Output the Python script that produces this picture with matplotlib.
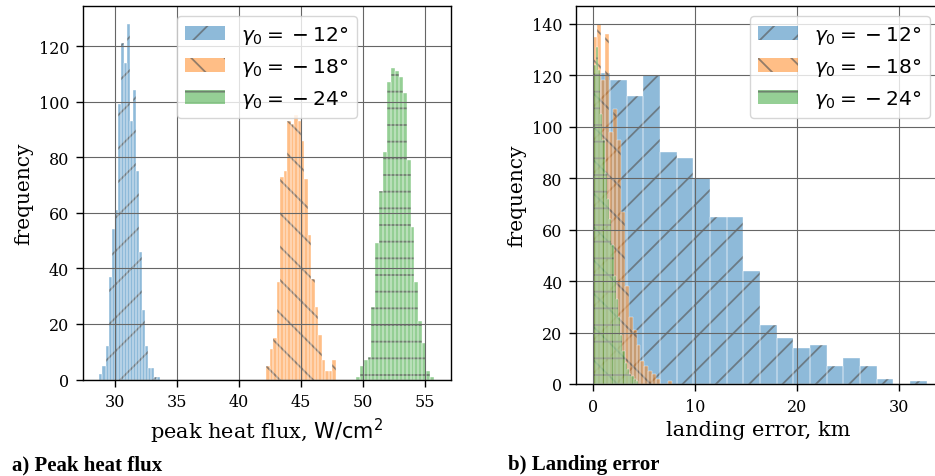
import numpy as np
import matplotlib.pyplot as plt

plt.rcParams['font.family'] = 'DejaVu Serif'
plt.rcParams['mathtext.fontset'] = 'dejavusans'
plt.rcParams['hatch.linewidth'] = 1.3
plt.rcParams['axes.linewidth'] = 1.0

# flight path angles
labels = [r'$\gamma_0 =\: -\: 12°$', r'$\gamma_0 =\: -\: 18°$', r'$\gamma_0 =\: -\: 24°$']
colors = ['tab:blue', 'tab:orange', 'tab:green']
hatches = ['/', '\\', '-']

# a) peak heat flux, W/cm^2 : bin range and counts (20 bins each)
flux_range = [(28.76, 33.68), (42.21, 47.80), (49.42, 55.72)]
flux_12 = [2, 5, 12, 37, 54, 61, 99, 121, 114, 128, 93, 104, 75, 46, 25, 12, 4, 4, 1, 1]
flux_18 = [5, 11, 15, 35, 73, 75, 93, 92, 95, 93, 86, 72, 52, 36, 26, 16, 7, 3, 3, 7]
flux_24 = [1, 5, 7, 8, 26, 49, 68, 82, 107, 112, 111, 109, 103, 79, 55, 35, 21, 13, 3, 1]

# b) landing error, km
err_range = [(0.0, 32.7), (0.0, 7.7), (0.0, 4.4)]
err_12 = [121, 118, 112, 120, 90, 88, 80, 65, 65, 44, 23, 18, 14, 15, 7, 10, 7, 2, 0, 1]
err_18 = [135, 140, 118, 136, 98, 107, 95, 67, 38, 26, 21, 15, 9, 7, 5, 4, 2, 0, 0, 1]
err_24 = [124, 131, 122, 105, 95, 82, 72, 64, 54, 42, 33, 26, 19, 13, 8, 6, 4, 3, 2, 1]


def draw_hist(ax, rng, counts, color, hatch):
    edges = np.linspace(rng[0], rng[1], len(counts) + 1)
    mids = (edges[:-1] + edges[1:]) / 2
    f = ax.hist(mids, bins=edges, weights=counts, color=color, alpha=0.5, lw=0)[2]
    h = ax.hist(mids, bins=edges, weights=counts, fill=False, hatch=hatch,
                edgecolor=(0.35, 0.35, 0.35, 0.65), lw=0)[2]
    ax.hist(mids, bins=edges, weights=counts, fill=False,
            edgecolor=(1, 1, 1, 0.8), lw=0.35)
    return (f[0], h[0])


fig = plt.figure(figsize=(9.35, 4.77), dpi=100)
ax1 = fig.add_axes([82.7 / 935, 1 - 380.5 / 477, 368 / 935, 373.5 / 477])
ax2 = fig.add_axes([576 / 935, 1 - 385 / 477, 364 / 935, 378.3 / 477])

handles1 = []
for rng, cnt, c, ht in zip(flux_range, [flux_12, flux_18, flux_24], colors, hatches):
    handles1.append(draw_hist(ax1, rng, cnt, c, ht))
handles2 = []
for rng, cnt, c, ht in zip(err_range, [err_12, err_18, err_24], colors, hatches):
    handles2.append(draw_hist(ax2, rng, cnt, c, ht))

ax1.set_xticks([30, 35, 40, 45, 50, 55])
ax1.set_yticks(range(0, 121, 20))
ax2.set_xlim(-1.7, 34.0)
ax2.set_xticks([0, 10, 20, 30])
ax2.set_yticks(range(0, 141, 20))

for ax in (ax1, ax2):
    ax.grid(True, color='0.4', lw=0.8)
    ax.tick_params(labelsize=11.5, length=4.8, width=1.0, pad=5)
    ax.set_ylabel('frequency', fontsize=14.5)

ax1.set_xlabel(r'peak heat flux, $\mathrm{W/cm}^2$', fontsize=15)
ax2.set_xlabel('landing error, km', fontsize=15)

ax1.legend(handles1, labels, loc='upper center', fontsize=14.5)
ax2.legend(handles2, labels, loc='upper right', fontsize=14.5)

fig.text(12 / 935, 12 / 477, 'a) Peak heat flux', family='Liberation Serif',
         weight='bold', fontsize=15, va='center')
fig.text(508 / 935, 12 / 477, 'b) Landing error', family='Liberation Serif',
         weight='bold', fontsize=15, va='center')

fig.savefig('out.png', dpi=100)
